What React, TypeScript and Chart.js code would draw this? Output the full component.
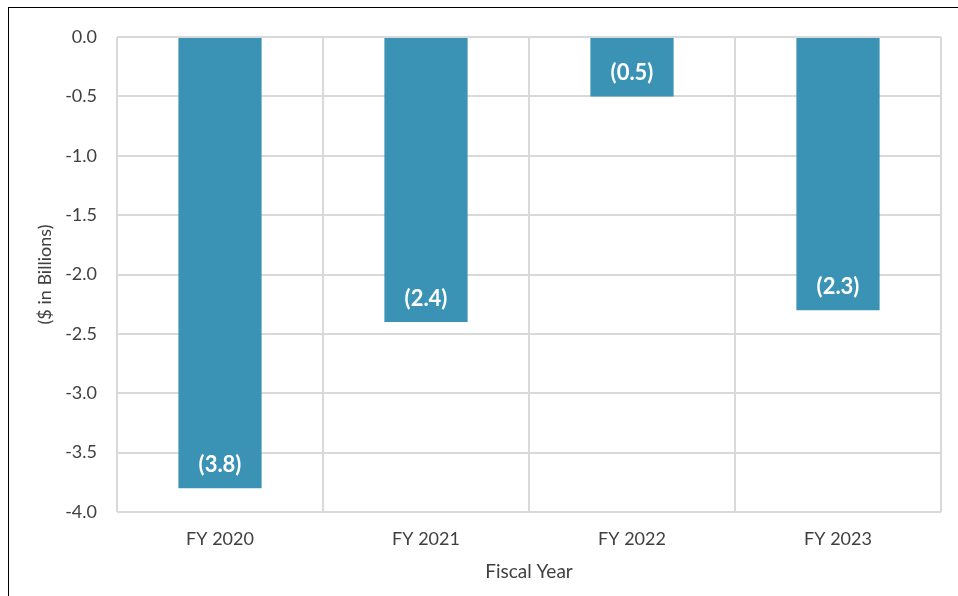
import React, { useEffect, useRef } from "react";
import { Chart, registerables } from "chart.js";

Chart.register(...registerables);

const categories = ["FY 2020", "FY 2021", "FY 2022", "FY 2023"];
const values = [-3.8, -2.4, -0.5, -2.3];
const dataLabels = ["(3.8)", "(2.4)", "(0.5)", "(2.3)"];
const yMin = -4.0;
const yMax = 0.0;
const yStep = 0.5;
const xTitle = "Fiscal Year";
const yTitle = "($ in Billions)";

const FONT = "Lato, 'Open Sans', sans-serif";
const BAR = "#3A93B5";
const GRID = "#D9D9D9";
const TEXT = "#404040";

const labelPlugin = {
  id: "barLabels",
  afterDatasetsDraw(chart: any) {
    const ctx = chart.ctx;
    const meta = chart.getDatasetMeta(0);
    const yScale = chart.scales.y;
    ctx.save();
    ctx.fillStyle = "#FFFFFF";
    ctx.font = `bold 22px ${FONT}`;
    ctx.textAlign = "center";
    ctx.textBaseline = "middle";
    meta.data.forEach((bar: any, i: number) => {
      const yEnd = yScale.getPixelForValue(values[i]);
      ctx.fillText(dataLabels[i], bar.x, yEnd - 23);
    });
    ctx.restore();
  },
};

export default function App() {
  const ref = useRef<HTMLCanvasElement | null>(null);
  useEffect(() => {
    if (!ref.current) return;
    const chart = new Chart(ref.current, {
      type: "bar",
      data: {
        labels: categories,
        datasets: [
          {
            data: values,
            backgroundColor: BAR,
            borderWidth: 0,
            barPercentage: 0.404,
            categoryPercentage: 1,
          },
        ],
      },
      options: {
        responsive: false,
        animation: false,
        layout: { padding: { top: 37, right: 17, bottom: 0, left: 0 } },
        plugins: {
          legend: { display: false },
          tooltip: { enabled: false },
        },
        scales: {
          x: {
            grid: { color: GRID, lineWidth: 2, drawTicks: false, offset: true },
            border: { display: false },
            ticks: { color: TEXT, font: { family: FONT, size: 18 }, padding: 16 },
            title: {
              display: true,
              text: xTitle,
              color: TEXT,
              font: { family: FONT, size: 19 },
              padding: { top: 0, bottom: 13 },
            },
            afterFit: (s: any) => {
              s.height = 84;
            },
          },
          y: {
            min: yMin,
            max: yMax,
            grid: { color: GRID, lineWidth: 2, drawTicks: false },
            border: { display: false },
            ticks: {
              stepSize: yStep,
              color: TEXT,
              font: { family: FONT, size: 18 },
              padding: 20,
              callback: (v: any) => Number(v).toFixed(1),
            },
            title: {
              display: true,
              text: yTitle,
              color: TEXT,
              font: { family: FONT, size: 18 },
              padding: { top: 34, bottom: 0 },
            },
            afterFit: (s: any) => {
              s.width = 117;
            },
          },
        },
      },
      plugins: [labelPlugin],
    });
    return () => chart.destroy();
  }, []);

  return (
    <div style={{ position: "fixed", left: 0, top: 0, width: 958, height: 596, background: "#fff" }}>
      <canvas ref={ref} width={958} height={596} style={{ position: "absolute", left: 0, top: 0 }} />
      <div
        style={{
          position: "absolute",
          left: 8,
          top: 7,
          width: 960,
          height: 600,
          borderLeft: "1.5px solid #000",
          borderTop: "1.5px solid #000",
          pointerEvents: "none",
        }}
      />
    </div>
  );
}
